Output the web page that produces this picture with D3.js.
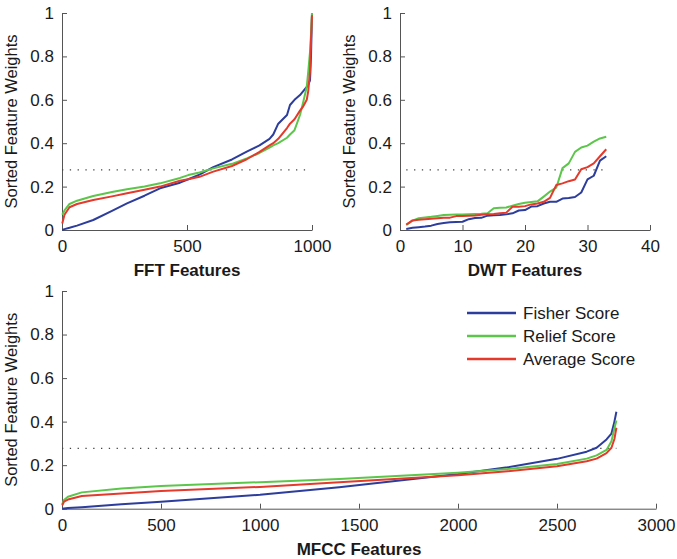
<!DOCTYPE html>
<html>
<head>
<meta charset="utf-8">
<script src="https://cdn.jsdelivr.net/npm/d3@7"></script>
<style>
  body { margin: 0; background: #fff; }
  text { font-family: "Liberation Sans", Arial, sans-serif; fill: #1a1a1a; }
</style>
</head>
<body>
<div id="chart"></div>
<script>
// series names + colours
var seriesNames = ["Fisher Score", "Relief Score", "Average Score"];
var seriesColors = ["#2c3d9c", "#5cc64a", "#e5392b"];

// FFT panel (1000 features)
var fftIndex   = [1, 10, 30, 60, 125, 200, 260, 330, 392, 472, 505, 550, 605, 680, 739, 790, 830, 845, 865, 900, 912, 930, 952, 965, 979, 985, 992, 996, 1000];
var fftFisher  = [0, 0.004, 0.01, 0.02, 0.046, 0.088, 0.123, 0.158, 0.192, 0.218, 0.234, 0.255, 0.29, 0.325, 0.361, 0.39, 0.42, 0.44, 0.49, 0.53, 0.576, 0.6, 0.622, 0.64, 0.66, 0.67, 0.69, 0.8, 1.0];
var fftRelief  = [0.07, 0.09, 0.12, 0.135, 0.157, 0.175, 0.188, 0.2, 0.215, 0.24, 0.253, 0.265, 0.284, 0.305, 0.33, 0.355, 0.38, 0.39, 0.40, 0.425, 0.44, 0.46, 0.53, 0.59, 0.66, 0.73, 0.82, 0.9, 1.0];
var fftAverage = [0.03, 0.07, 0.105, 0.12, 0.138, 0.155, 0.169, 0.185, 0.2, 0.227, 0.234, 0.245, 0.269, 0.295, 0.326, 0.36, 0.39, 0.40, 0.42, 0.47, 0.49, 0.51, 0.55, 0.57, 0.6, 0.64, 0.73, 0.88, 0.99];

// DWT panel (33 features)
var dwtIndex   = [1, 2, 3, 4, 5, 6, 7, 8, 9, 10, 11, 12, 13, 14, 15, 16, 17, 18, 19, 20, 21, 22, 23, 24, 25, 26, 27, 28, 29, 30, 31, 32, 33];
var dwtFisher  = [0.005, 0.01, 0.013, 0.016, 0.02, 0.028, 0.032, 0.036, 0.037, 0.038, 0.05, 0.055, 0.056, 0.066, 0.068, 0.069, 0.072, 0.077, 0.09, 0.092, 0.108, 0.11, 0.122, 0.13, 0.13, 0.145, 0.147, 0.152, 0.173, 0.233, 0.25, 0.32, 0.34];
var dwtRelief  = [0.023, 0.043, 0.054, 0.058, 0.061, 0.065, 0.069, 0.07, 0.071, 0.072, 0.073, 0.074, 0.075, 0.077, 0.1, 0.102, 0.104, 0.112, 0.12, 0.126, 0.129, 0.132, 0.154, 0.177, 0.195, 0.285, 0.307, 0.36, 0.38, 0.389, 0.407, 0.422, 0.43];
var dwtAverage = [0.025, 0.044, 0.047, 0.05, 0.052, 0.054, 0.056, 0.057, 0.064, 0.065, 0.066, 0.067, 0.07, 0.073, 0.074, 0.077, 0.08, 0.107, 0.107, 0.11, 0.118, 0.122, 0.13, 0.148, 0.207, 0.215, 0.225, 0.233, 0.28, 0.29, 0.307, 0.34, 0.372];

// MFCC panel (~2800 features)
var mfccIndex   = [1, 10, 30, 100, 300, 500, 1000, 1400, 2000, 2250, 2500, 2650, 2700, 2750, 2775, 2790, 2800];
var mfccFisher  = [0, 0.001, 0.003, 0.007, 0.02, 0.032, 0.064, 0.098, 0.159, 0.19, 0.229, 0.262, 0.28, 0.318, 0.345, 0.40, 0.445];
var mfccRelief  = [0.02, 0.04, 0.055, 0.075, 0.093, 0.104, 0.122, 0.136, 0.165, 0.182, 0.205, 0.23, 0.245, 0.27, 0.31, 0.37, 0.405];
var mfccAverage = [0.015, 0.032, 0.042, 0.058, 0.07, 0.081, 0.1, 0.122, 0.154, 0.172, 0.195, 0.218, 0.23, 0.255, 0.28, 0.32, 0.372];

// dotted threshold line
var threshold = 0.277;
var fftThresholdRange  = [0, 980];
var dwtThresholdRange  = [1, 33];
var mfccThresholdRange = [0, 2800];

// ticks
var yTicks    = [0, 0.2, 0.4, 0.6, 0.8, 1];
var fftTicks  = [0, 500, 1000];
var dwtTicks  = [0, 10, 20, 30, 40];
var mfccTicks = [0, 500, 1000, 1500, 2000, 2500, 3000];

var svg = d3.select("#chart").append("svg")
  .attr("width", 677)
  .attr("height", 559);

function drawPanel(p) {
  var x = d3.scaleLinear().domain(p.xDomain).range([p.left, p.right]);
  var y = d3.scaleLinear().domain([0, 1]).range([p.bottom, p.top]);
  var g = svg.append("g");

  // axes, ticks pointing inward like matlab
  var xAxis = g.append("g")
    .attr("transform", "translate(0," + p.bottom + ")")
    .call(d3.axisBottom(x).tickValues(p.xTicks).tickSizeInner(-5).tickSizeOuter(0).tickPadding(10).tickFormat(d3.format("d")));
  var yAxis = g.append("g")
    .attr("transform", "translate(" + p.left + ",0)")
    .call(d3.axisLeft(y).tickValues(yTicks).tickSizeInner(-5).tickSizeOuter(0).tickPadding(8).tickFormat(d3.format("~g")));
  [xAxis, yAxis].forEach(function(a) {
    a.selectAll("path, line").attr("stroke", "#555");
    a.selectAll("text").attr("font-size", 17).attr("font-family", "Liberation Sans, Arial, sans-serif").attr("fill", "#1a1a1a");
  });

  // threshold
  g.append("line")
    .attr("x1", x(p.thr[0])).attr("x2", x(p.thr[1]))
    .attr("y1", y(threshold)).attr("y2", y(threshold))
    .attr("stroke", "#444")
    .attr("stroke-width", 1.2)
    .attr("stroke-dasharray", "1.3,6.5");

  var line = d3.line()
    .x(function(d) { return x(d[0]); })
    .y(function(d) { return y(d[1]); });

  p.series.forEach(function(vals, i) {
    g.append("path")
      .datum(p.index.map(function(v, j) { return [v, vals[j]]; }))
      .attr("fill", "none")
      .attr("stroke", seriesColors[i])
      .attr("stroke-width", 2)
      .attr("stroke-linejoin", "round")
      .attr("d", line);
  });

  g.append("text")
    .attr("x", (p.left + p.right) / 2)
    .attr("y", p.bottom + 46)
    .attr("text-anchor", "middle")
    .attr("font-size", 17)
    .attr("font-weight", "bold")
    .text(p.xLabel);

  g.append("text")
    .attr("transform", "translate(" + (p.left - 45) + "," + ((p.top + p.bottom) / 2) + ") rotate(-90)")
    .attr("text-anchor", "middle")
    .attr("font-size", 16.5)
    .text("Sorted Feature Weights");
}

drawPanel({left: 62, right: 312, top: 13, bottom: 230, xDomain: [0, 1000], xTicks: fftTicks,
  index: fftIndex, series: [fftFisher, fftRelief, fftAverage], thr: fftThresholdRange, xLabel: "FFT Features"});
drawPanel({left: 400, right: 650, top: 13, bottom: 230, xDomain: [0, 40], xTicks: dwtTicks,
  index: dwtIndex, series: [dwtFisher, dwtRelief, dwtAverage], thr: dwtThresholdRange, xLabel: "DWT Features"});
drawPanel({left: 62, right: 656, top: 291, bottom: 508.7, xDomain: [0, 3000], xTicks: mfccTicks,
  index: mfccIndex, series: [mfccFisher, mfccRelief, mfccAverage], thr: mfccThresholdRange, xLabel: "MFCC Features"});

// legend
var legend = svg.append("g");
seriesNames.forEach(function(name, i) {
  var ly = 313 + i * 23;
  legend.append("line")
    .attr("x1", 467).attr("x2", 516)
    .attr("y1", ly).attr("y2", ly)
    .attr("stroke", seriesColors[i])
    .attr("stroke-width", 2.5);
  legend.append("text")
    .attr("x", 523)
    .attr("y", ly)
    .attr("dy", "0.35em")
    .attr("font-size", 17)
    .text(name);
});
</script>
</body>
</html>
